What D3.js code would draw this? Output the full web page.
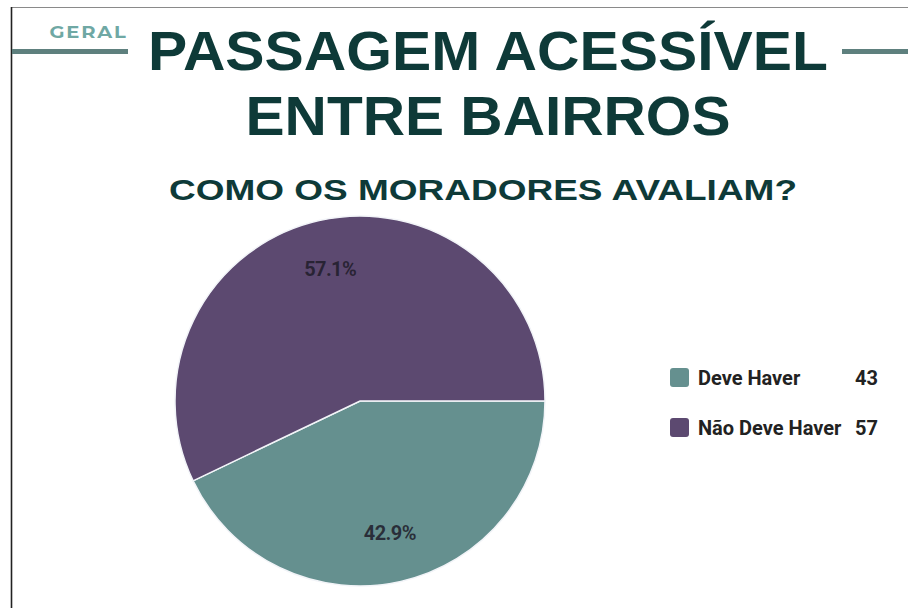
<!DOCTYPE html>
<html>
<head>
<meta charset="utf-8">
<script src="https://cdn.jsdelivr.net/npm/d3@7"></script>
<style>
  body { margin: 0; background: #fff; }
  svg { display: block; }
</style>
</head>
<body>
<svg id="chart" width="908" height="608"></svg>
<script>
// data
const categories = ['Deve Haver', 'Não Deve Haver']
const values = [43, 57]          // legend counts
const percents = [42.9, 57.1]    // slice labels
const colors = ['#65908f', '#5c4970']
const title_lines = ['PASSAGEM ACESSÍVEL', 'ENTRE BAIRROS']
const subtitle = 'COMO OS MORADORES AVALIAM?'
const tag = 'GERAL'

const svg = d3.select('#chart')

// frame
svg.append('line')
  .attr('x1', 11).attr('x2', 908).attr('y1', 7.5).attr('y2', 7.5)
  .attr('stroke', '#8a8a8a').attr('stroke-width', 1.2)
svg.append('line')
  .attr('x1', 11.5).attr('x2', 11.5).attr('y1', 7).attr('y2', 608)
  .attr('stroke', '#222').attr('stroke-width', 1.6)

// header bars
svg.append('rect').attr('x', 12).attr('y', 49).attr('width', 116).attr('height', 5).attr('fill', '#5e807e')
svg.append('rect').attr('x', 842).attr('y', 49).attr('width', 66).attr('height', 5).attr('fill', '#5e807e')

svg.append('text')
  .attr('x', 88.5).attr('y', 38)
  .attr('text-anchor', 'middle')
  .attr('font-family', 'Montserrat, "Open Sans", sans-serif')
  .attr('font-weight', 700)
  .attr('font-size', 16)
  .attr('letter-spacing', 1.5)
  .attr('textLength', 78)
  .attr('lengthAdjust', 'spacingAndGlyphs')
  .attr('fill', '#6fa8a4')
  .text(tag)

const title_color = '#0e3a38'
const title_widths = [680, 485]
svg.selectAll('text.title')
  .data(title_lines)
  .join('text')
  .attr('class', 'title')
  .attr('x', 488)
  .attr('y', (d, i) => 70 + i * 65)
  .attr('text-anchor', 'middle')
  .attr('font-family', '"Liberation Sans", Arial, sans-serif')
  .attr('font-weight', 700)
  .attr('font-size', 55)
  .attr('textLength', (d, i) => title_widths[i])
  .attr('lengthAdjust', 'spacingAndGlyphs')
  .attr('fill', title_color)
  .text(d => d)

svg.append('text')
  .attr('x', 483).attr('y', 200)
  .attr('text-anchor', 'middle')
  .attr('font-family', '"Liberation Sans", Arial, sans-serif')
  .attr('font-weight', 700)
  .attr('font-size', 30)
  .attr('textLength', 628)
  .attr('lengthAdjust', 'spacingAndGlyphs')
  .attr('fill', title_color)
  .text(subtitle)

// pie
const cx = 360, cy = 401, r = 185
const pie = d3.pie().sort(null).startAngle(Math.PI / 2).endAngle(Math.PI / 2 + 2 * Math.PI)
const arc = d3.arc().innerRadius(0).outerRadius(r)
const label_arc = d3.arc().innerRadius(r * 0.73).outerRadius(r * 0.73)
const arcs = pie(percents)

const g = svg.append('g').attr('transform', `translate(${cx},${cy})`)
g.selectAll('path')
  .data(arcs)
  .join('path')
  .attr('d', arc)
  .attr('fill', (d, i) => colors[i])
  .attr('stroke', '#f2f4f8')
  .attr('stroke-width', 1.5)

g.selectAll('text.pct')
  .data(arcs)
  .join('text')
  .attr('class', 'pct')
  .attr('transform', d => `translate(${label_arc.centroid(d)})`)
  .attr('dy', '0.35em')
  .attr('text-anchor', 'middle')
  .attr('font-family', 'Roboto, "Noto Sans", sans-serif')
  .attr('font-weight', 700)
  .attr('font-size', 20)
  .attr('letter-spacing', -0.6)
  .attr('fill', '#1f1c2a')
  .attr('fill-opacity', 0.85)
  .text(d => d.value.toFixed(1) + '%')

// legend
const legend = svg.append('g').attr('transform', 'translate(670,368)')
const rows = legend.selectAll('g')
  .data(categories)
  .join('g')
  .attr('transform', (d, i) => `translate(0,${i * 50})`)
rows.append('rect')
  .attr('width', 19).attr('height', 19).attr('rx', 3)
  .attr('fill', (d, i) => colors[i])
rows.append('text')
  .attr('x', 28).attr('y', 17)
  .attr('font-family', 'Roboto, "Noto Sans", sans-serif')
  .attr('font-weight', 700)
  .attr('font-size', 20)
  .attr('fill', '#222')
  .text(d => d)
rows.append('text')
  .attr('x', 208).attr('y', 17)
  .attr('text-anchor', 'end')
  .attr('font-family', 'Roboto, "Noto Sans", sans-serif')
  .attr('font-weight', 700)
  .attr('font-size', 20)
  .attr('fill', '#222')
  .text((d, i) => values[i])
</script>
</body>
</html>
